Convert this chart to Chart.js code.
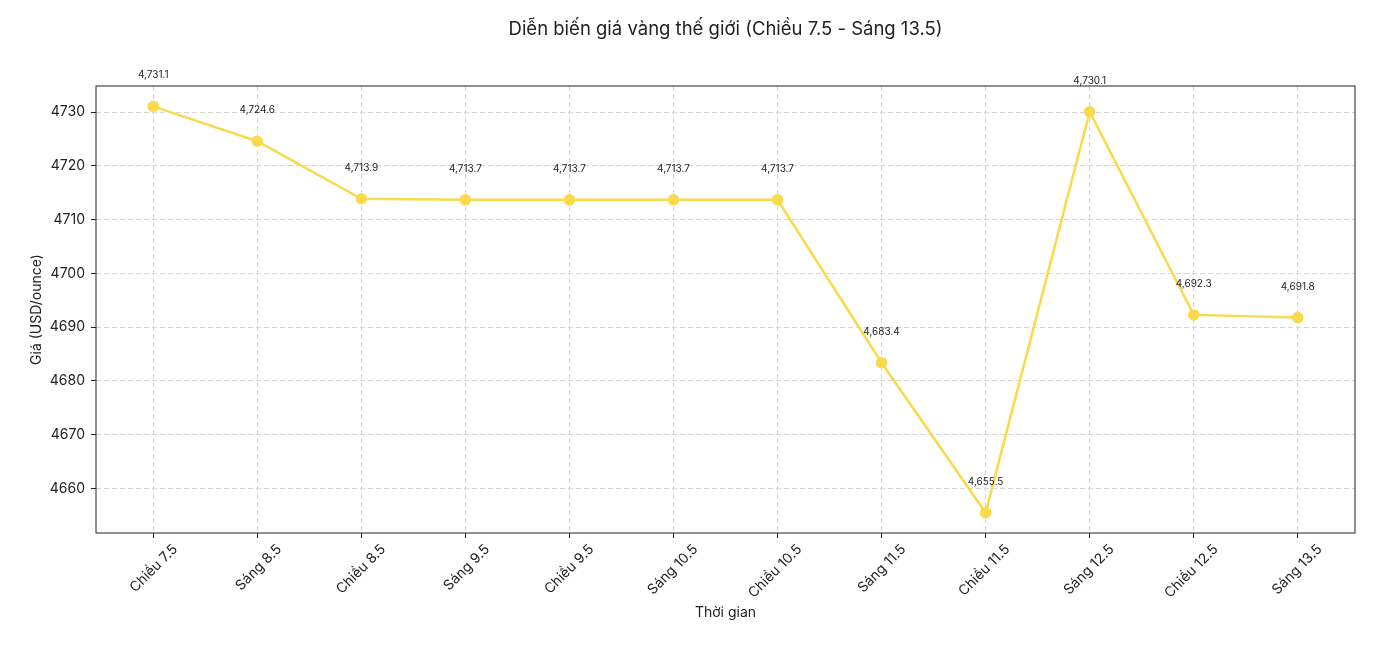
<!DOCTYPE html>
<html>
<head>
<meta charset="utf-8">
<script src="https://cdn.jsdelivr.net/npm/chart.js@4/dist/chart.umd.min.js"></script>
<style>
  html, body { margin: 0; padding: 0; background: #fff; }
  #wrap { width: 1382px; height: 662px; }
</style>
</head>
<body>
<div id="wrap"><canvas id="chart"></canvas></div>
<script>
var labels = ["Chiều 7.5", "Sáng 8.5", "Chiều 8.5", "Sáng 9.5", "Chiều 9.5", "Sáng 10.5",
  "Chiều 10.5", "Sáng 11.5", "Chiều 11.5", "Sáng 12.5", "Chiều 12.5", "Sáng 13.5"];
var prices = [4731.1, 4724.6, 4713.9, 4713.7, 4713.7, 4713.7, 4713.7, 4683.4, 4655.5, 4730.1, 4692.3, 4691.8];
var yTicks = [4660, 4670, 4680, 4690, 4700, 4710, 4720, 4730];

var title = "Diễn biến giá vàng thế giới (Chiều 7.5 - Sáng 13.5)";
var fontFamily = "Inter, 'Open Sans', sans-serif";
var gold = "#F8DA4B";

// matplotlib-like 5% margins
var lo = Math.min.apply(null, prices), hi = Math.max.apply(null, prices);
var pad = (hi - lo) * 0.05;

function fmt(v) {
  return v.toLocaleString("en-US", { minimumFractionDigits: 1, maximumFractionDigits: 1 });
}

// frame, title and value labels
var extras = {
  id: "extras",
  afterDraw: function(chart) {
    var ctx = chart.ctx, a = chart.chartArea;
    ctx.save();
    ctx.strokeStyle = "#222";
    ctx.lineWidth = 1;
    ctx.strokeRect(a.left, a.top, a.right - a.left, a.bottom - a.top);

    ctx.fillStyle = "#222";
    ctx.font = "18.5px " + fontFamily;
    ctx.textAlign = "center";
    ctx.textBaseline = "middle";
    ctx.fillText(title, (a.left + a.right) / 2, 29);

    ctx.font = "10px " + fontFamily;
    var meta = chart.getDatasetMeta(0);
    meta.data.forEach(function(pt, i) {
      ctx.fillText(fmt(prices[i]), pt.x, pt.y - 31);
    });
    ctx.restore();
  }
};

var gridOpts = {
  color: "#d6d6d6",
  tickColor: "#222",
  tickBorderDash: [],
  tickLength: 5
};

var ctx = document.getElementById("chart");
new Chart(ctx, {
  type: "line",
  data: {
    datasets: [{
      data: prices.map(function(v, i) { return { x: i, y: v }; }),
      borderColor: gold,
      backgroundColor: gold,
      borderWidth: 2.5,
      pointRadius: 4.5,
      pointHoverRadius: 4.5,
      tension: 0
    }]
  },
  options: {
    responsive: true,
    maintainAspectRatio: false,
    animation: false,
    layout: { padding: { top: 86, right: 27, left: 0, bottom: 0 } },
    plugins: { legend: { display: false }, tooltip: { enabled: false } },
    scales: {
      x: {
        type: "linear",
        min: -0.55,
        max: labels.length - 1 + 0.55,
        afterBuildTicks: function(s) {
          s.ticks = labels.map(function(_, i) { return { value: i }; });
        },
        afterFit: function(s) { s.height = 129; },
        ticks: {
          autoSkip: false,
          minRotation: 45,
          maxRotation: 45,
          labelOffset: 22,
          padding: 3,
          color: "#222",
          font: { family: fontFamily, size: 14 },
          callback: function(v) { return labels[v]; }
        },
        grid: gridOpts,
        border: { display: false, dash: [5, 3] },
        title: {
          display: true,
          text: "Thời gian",
          color: "#222",
          font: { family: fontFamily, size: 14 },
          padding: { top: 0, bottom: 41 }
        }
      },
      y: {
        min: lo - pad,
        max: hi + pad,
        afterBuildTicks: function(s) {
          s.ticks = yTicks.map(function(v) { return { value: v }; });
        },
        afterFit: function(s) { s.width = 96; },
        ticks: {
          padding: 6,
          color: "#222",
          font: { family: fontFamily, size: 14 },
          callback: function(v) { return String(v); }
        },
        grid: gridOpts,
        border: { display: false, dash: [5, 3] },
        title: {
          display: true,
          text: "Giá (USD/ounce)",
          color: "#222",
          font: { family: fontFamily, size: 14 },
          padding: { top: 28, bottom: 0 }
        }
      }
    }
  },
  plugins: [extras]
});
</script>
</body>
</html>
